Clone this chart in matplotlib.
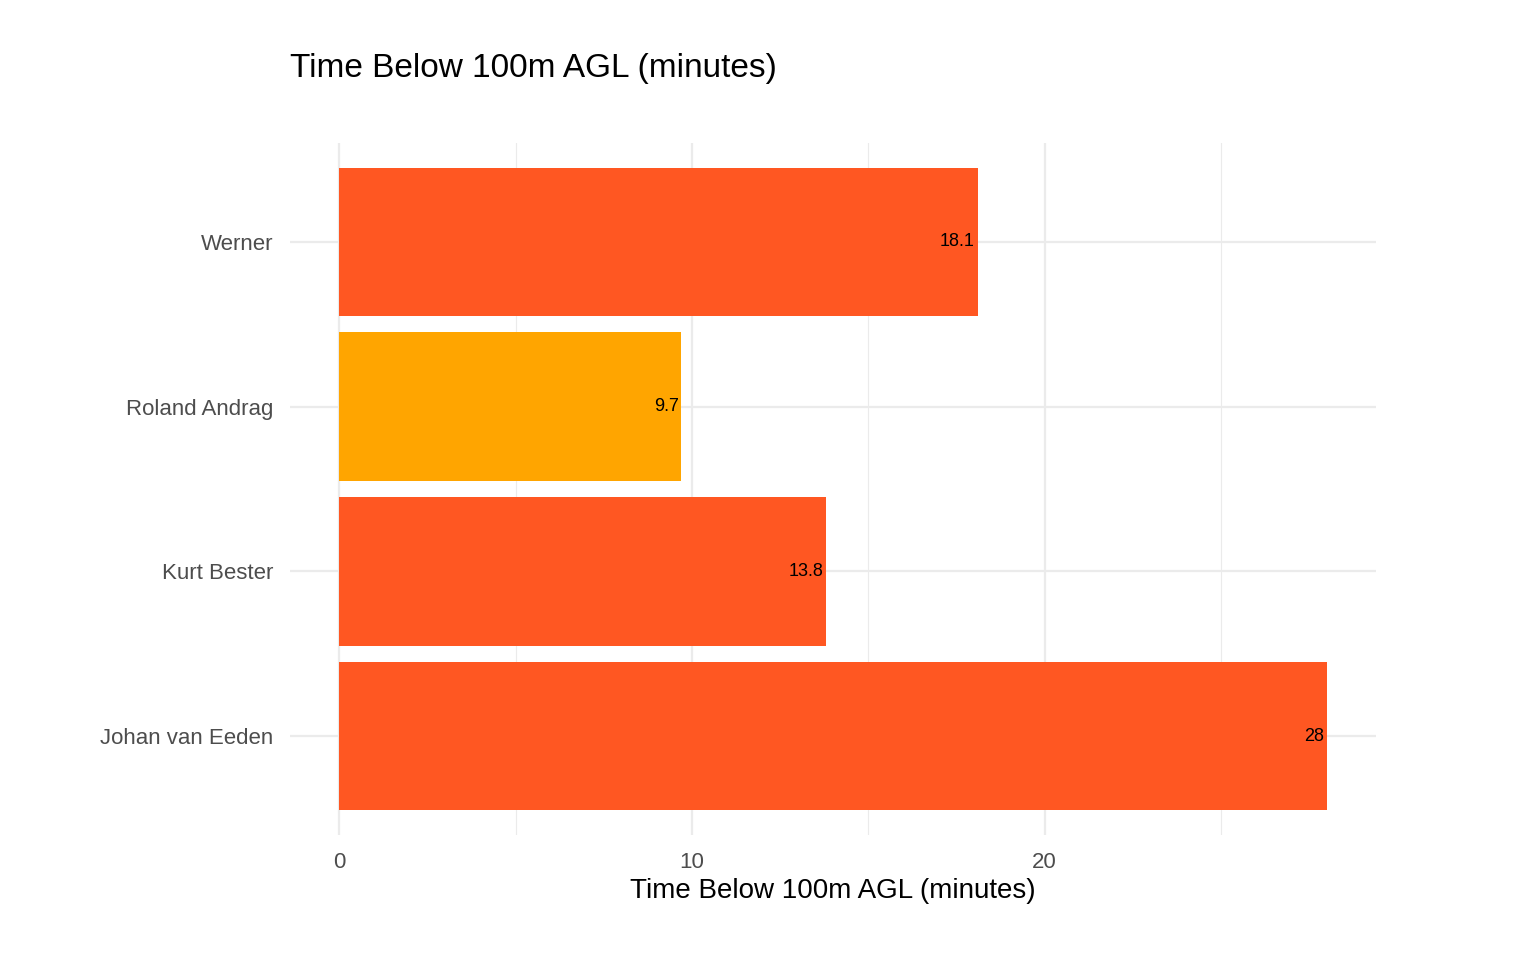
import matplotlib
matplotlib.use("Agg")
import matplotlib.pyplot as plt

pilots = ["Johan van Eeden", "Kurt Bester", "Roland Andrag", "Werner"]
minutes = [28, 13.8, 9.7, 18.1]
labels = ["28", "13.8", "9.7", "18.1"]
colors = ["#FF5722", "#FF5722", "#FFA500", "#FF5722"]

plt.rcParams['font.family'] = ['Liberation Sans', 'DejaVu Sans']
fig = plt.figure(figsize=(15.36, 9.6), dpi=100)
ax = fig.add_axes([290/1536, 1 - 835/960, (1376-290)/1536, (835-143)/960])

y = list(range(1, len(pilots) + 1))
ax.bar(0, 0)  # no-op placeholder for style consistency
ax.cla()
ax.barh(y, minutes, height=0.9, color=colors, zorder=2)
for yi, v, t in zip(y, minutes, labels):
    ax.text(v - 0.08, yi, t, ha="right", va="center", fontsize=13, color="black", zorder=3)

ax.set_xlim(-1.4, 29.4)
ax.set_ylim(0.4, 4.6)
ax.set_yticks(y)
ax.set_yticklabels(pilots)
ax.set_xticks([0, 10, 20])
ax.set_xticks([5, 15, 25], minor=True)
ax.grid(True, which="major", color="#EBEBEB", linewidth=1.6, zorder=0)
ax.grid(True, which="minor", axis="x", color="#EBEBEB", linewidth=0.8, zorder=0)
ax.tick_params(which="both", length=0, labelsize=16, labelcolor="#4D4D4D", pad=12)
for s in ax.spines.values():
    s.set_visible(False)
ax.set_xlabel("Time Below 100m AGL (minutes)", fontsize=20, labelpad=4)
fig.text(290/1536, 1 - 68/960, "Time Below 100m AGL (minutes)", fontsize=24, va="center")
fig.savefig("out.png", dpi=100)
